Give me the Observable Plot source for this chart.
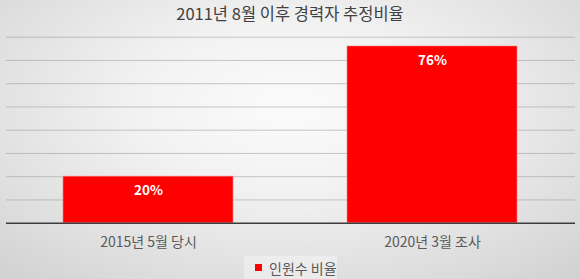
<!DOCTYPE html>
<html>
<head>
<meta charset="utf-8">
<script src="https://cdn.jsdelivr.net/npm/d3@7"></script>
<script src="https://cdn.jsdelivr.net/npm/@observablehq/plot@0.6"></script>
<style>
  html, body { margin: 0; padding: 0; }
  body { width: 580px; height: 279px; overflow: hidden;
    font-family: "Noto Sans CJK KR", "Noto Sans", sans-serif;
    background: radial-gradient(ellipse 75% 85% at 50% 38%, #fbfbfb 0%, #f2f2f2 35%, #dedede 75%, #d0d0d0 100%); }
  #title { height: 30px; box-sizing: border-box; padding-top: 2px; text-align: center;
    font-size: 16.5px; line-height: 22px; color: #404040; }
  #chart svg { display: block; }
  #legend { height: 27px; position: relative; }
  #legendbox { position: absolute; left: 244px; top: 4px; width: 93px; height: 24px;
    background: rgba(255,255,255,0.35); }
</style>
</head>
<body>
<div id="title"></div>
<div id="chart"></div>
<div id="legend"><div id="legendbox"></div></div>
<script>
const titleText = "2011년 8월 이후 경력자 추정비율";
const categories = ["2015년 5월 당시", "2020년 3월 조사"];
const values = [0.20, 0.76];
const valueLabels = ["20%", "76%"];
const seriesName = "인원수 비율";
const gridTicks = [0.1, 0.2, 0.3, 0.4, 0.5, 0.6, 0.7, 0.8];

const data = categories.map((c, i) => ({cat: c, value: values[i], label: valueLabels[i]}));

document.getElementById("title").textContent = titleText;

const chart = Plot.plot({
  width: 580,
  height: 222,
  marginTop: 6.7,
  marginBottom: 29.3,
  marginLeft: 6,
  marginRight: 5,
  style: {background: "transparent", color: "#595959", fontSize: "14px",
          fontFamily: '"Noto Sans CJK KR", "Noto Sans", sans-serif'},
  x: {domain: categories, paddingInner: 0.4, paddingOuter: 0.2, label: null, axis: null},
  y: {domain: [0, 0.8], axis: null},
  marks: [
    Plot.ruleY(gridTicks, {stroke: "#8c8c8c", strokeOpacity: 0.45, strokeWidth: 1}),
    Plot.barY(data, {x: "cat", y: "value", fill: "#ff0000", stroke: "#ff8080", strokeOpacity: 0.6, strokeWidth: 1}),
    Plot.ruleY([0], {stroke: "#3c3c3c", strokeWidth: 1.5}),
    Plot.text(data, {x: "cat", y: "value", text: "label", dy: 14, fill: "white",
      fontSize: 13.5, fontWeight: "bold"}),
    Plot.axisX({tickSize: 0, tickPadding: 14, fontSize: 14, fill: "#595959"})
  ]
});
document.getElementById("chart").appendChild(chart);

const legend = Plot.legend({
  color: {domain: [seriesName], range: ["#ff0000"]},
  swatchSize: 7,
  style: {fontSize: "14px", color: "#595959", background: "transparent",
          fontFamily: '"Noto Sans CJK KR", "Noto Sans", sans-serif', margin: "0"}
});
legend.style.position = "absolute";
legend.style.left = "255px";
legend.style.top = "-1px";
legend.style.margin = "0";
document.getElementById("legend").appendChild(legend);
</script>
</body>
</html>
